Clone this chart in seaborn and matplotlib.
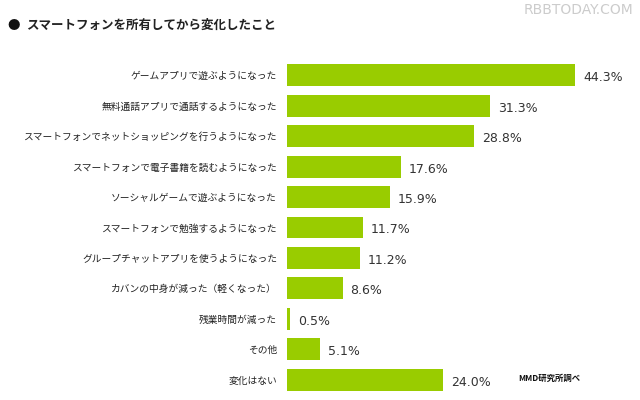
import matplotlib
matplotlib.use("Agg")
import matplotlib.pyplot as plt
import seaborn as sns
import pandas as pd

labels = ["ゲームアプリで遊ぶようになった", "無料通話アプリで通話するようになった",
          "スマートフォンでネットショッピングを行うようになった", "スマートフォンで電子書籍を読むようになった",
          "ソーシャルゲームで遊ぶようになった", "スマートフォンで勉強するようになった",
          "グループチャットアプリを使うようになった", "カバンの中身が減った（軽くなった）",
          "残業時間が減った", "その他", "変化はない"]
values = [44.3, 31.3, 28.8, 17.6, 15.9, 11.7, 11.2, 8.6, 0.5, 5.1, 24.0]

plt.rcParams["font.family"] = "Noto Sans CJK JP"
df = pd.DataFrame({"label": labels, "value": values})

fig = plt.figure(figsize=(6.4, 4.0), dpi=100)
ax = fig.add_axes([0.448, 0.0125, 0.532, 0.8375])
sns.barplot(data=df, x="value", y="label", color="#99cc00", width=0.72,
            saturation=1, ax=ax, orient="h")
ax.set_xlim(0, 52.3)
ax.set_ylim(10.5, -0.5)
ax.set_xlabel("")
ax.set_ylabel("")
ax.set_xticks([])
for s in ["top", "right", "bottom", "left"]:
    ax.spines[s].set_visible(False)
ax.tick_params(axis="y", length=0, pad=7, labelsize=7, labelcolor="#222222")
for i, v in enumerate(values):
    ax.text(v + 1.2, i + 0.08, f"{v:.1f}%", va="center", ha="left",
            fontsize=9, color="#333333", family="DejaVu Sans")

fig.text(0.012, 0.937, "●", fontsize=9, va="center", color="#111111")
fig.text(0.04, 0.937, "スマートフォンを所有してから変化したこと", fontsize=9,
         fontweight="bold", va="center", color="#222222")
fig.text(0.99, 0.975, "RBBTODAY.COM", fontsize=10, ha="right", va="center",
         color="#cccccc", family="DejaVu Sans")
fig.text(0.81, 0.055, "MMD研究所調べ", fontsize=6, fontweight="bold",
         va="center", color="#111111")
fig.savefig("out.png", dpi=100)
